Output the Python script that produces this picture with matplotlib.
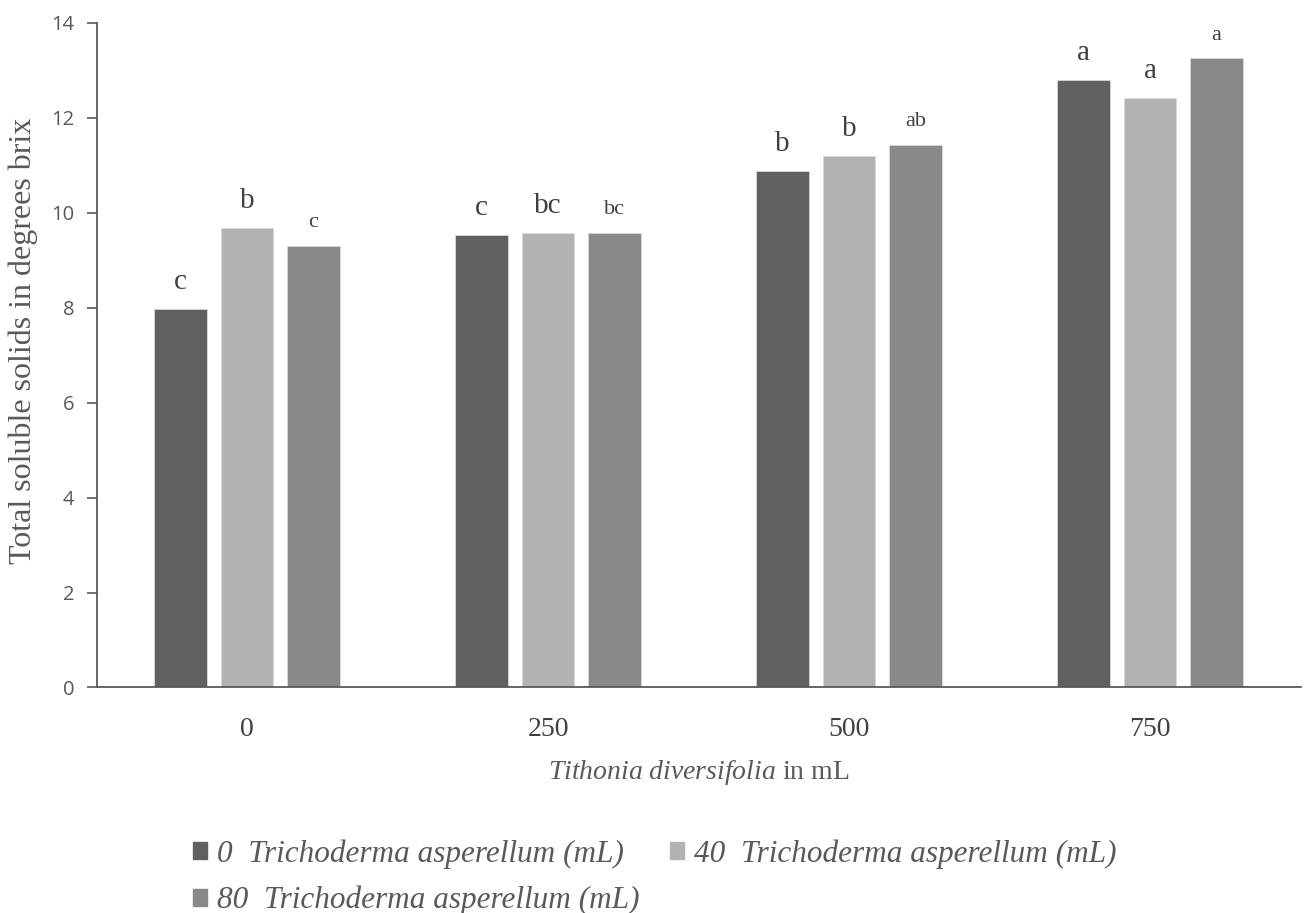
import numpy as np
import matplotlib.pyplot as plt
from matplotlib.patches import Patch

plt.rcParams["mathtext.fontset"] = "custom"
plt.rcParams["mathtext.it"] = "Liberation Serif:italic"
plt.rcParams["mathtext.rm"] = "Liberation Serif"

# data
doses = ["0", "250", "500", "750"]
series_names = ["0  Trichoderma asperellum (mL)",
                "40  Trichoderma asperellum (mL)",
                "80  Trichoderma asperellum (mL)"]
t0 = [7.97, 9.54, 10.88, 12.79]
t40 = [9.68, 9.57, 11.20, 12.42]
t80 = [9.30, 9.57, 11.42, 13.25]
letters0 = ["c", "c", "b", "a"]
letters40 = ["b", "bc", "b", "a"]
letters80 = ["c", "bc", "ab", "a"]

colors = ["#606060", "#b2b2b2", "#898989"]
txt_grey = "#595959"

fig = plt.figure(figsize=(13.06, 9.13), dpi=100)
ax = fig.add_axes([0.0739, 0.247, 0.9219, 0.728])

x = np.arange(len(doses))
w = 0.173
step = 0.221
vals = [t0, t40, t80]
lets = [letters0, letters40, letters80]
sizes = [21, 21, 16]

for i, (v, l) in enumerate(zip(vals, lets)):
    pos = x + (i - 1) * step
    ax.bar(pos, v, width=w, color=colors[i], edgecolor="#d9d9d9", linewidth=0.6)
    for px, py, s in zip(pos, v, l):
        ax.annotate(s, (px, py), xytext=(0, 10), textcoords="offset points",
                    ha="center", va="bottom", fontsize=sizes[i],
                    family="Liberation Serif", color="#404040")

ax.set_xlim(-0.5, 3.5)
ax.set_ylim(0, 14)
ax.set_yticks(range(0, 15, 2))
ax.set_xticks(x)
ax.set_xticklabels(doses, family="Liberation Serif", fontsize=20, color="#404040")
ax.tick_params(axis="x", length=0, pad=21)
ax.tick_params(axis="y", length=7, width=1.2, color=txt_grey, labelcolor=txt_grey,
               labelsize=14.5, pad=9)
for t in ax.get_yticklabels():
    t.set_family("Open Sans")

for s in ["top", "right"]:
    ax.spines[s].set_visible(False)
for s in ["left", "bottom"]:
    ax.spines[s].set_color(txt_grey)
    ax.spines[s].set_linewidth(1.3)

ax.set_ylabel("Total soluble solids in degrees brix", family="Liberation Serif",
              fontsize=23, color=txt_grey)
ax.yaxis.set_label_coords(-0.049, 0.521)
ax.set_xlabel(r"$\it{Tithonia\ diversifolia}$ in mL", family="Liberation Serif",
              fontsize=20, color=txt_grey, labelpad=12)

# legend: order so that row 1 = 0, 40 and row 2 = 80
order = [0, 2, 1]
handles = [Patch(facecolor=colors[k], edgecolor=colors[k]) for k in order]
labels = [series_names[k] for k in order]
leg = fig.legend(handles, labels, loc="upper left", bbox_to_anchor=(0.136, 0.098),
                 ncol=2, frameon=False, handlelength=0.45, handleheight=0.45,
                 handletextpad=0.3, columnspacing=1.0, labelspacing=0.55,
                 borderpad=0, prop={"family": "Liberation Serif", "style": "italic", "size": 22.5})
for t in leg.get_texts():
    t.set_color(txt_grey)

fig.savefig("out.png", dpi=100)
